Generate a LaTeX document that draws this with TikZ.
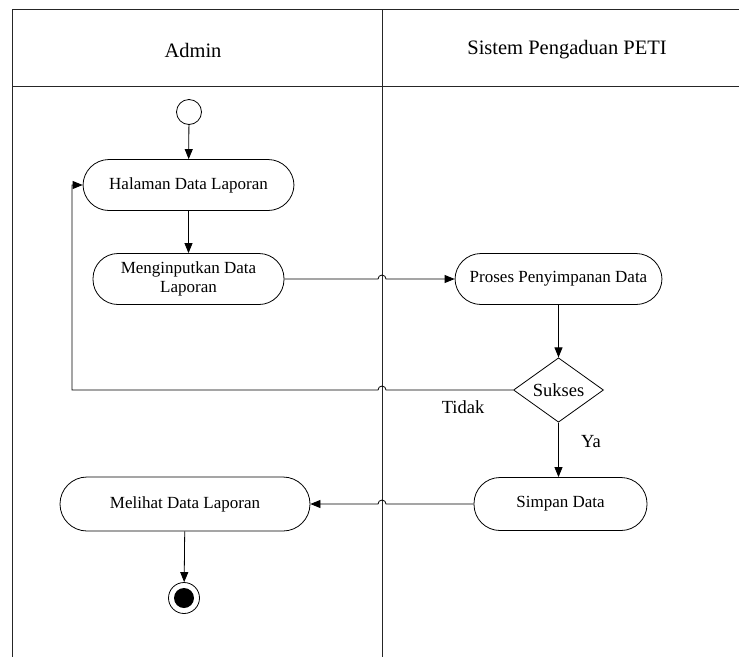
\documentclass[tikz,border=0pt]{standalone}
\usepackage{fontspec}
\setmainfont{Liberation Serif}
\usetikzlibrary{arrows.meta,shapes.geometric,calc}
\begin{document}
\begin{tikzpicture}[x=1pt,y=1pt,
  lane/.style={line width=1pt,black!85},
  act/.style={draw,line width=0.8pt,rounded corners=26pt,minimum height=51pt,align=center,font=\fontsize{17}{19.5}\selectfont,inner sep=2pt},
  dec/.style={draw,diamond,line width=0.8pt,minimum width=90pt,minimum height=61pt,inner sep=0pt,font=\fontsize{18.5}{20}\selectfont},
  lbl/.style={font=\fontsize{18.5}{20}\selectfont,inner sep=0pt},
  hdr/.style={font=\fontsize{20.5}{23}\selectfont,inner sep=0pt},
  arr/.style={line width=0.8pt,-{Triangle[length=10pt,width=8pt]}},
  ln/.style={line width=0.8pt}]
\useasboundingbox (0,0) rectangle (739,-657);
% swimlane frame
\coordinate (tl) at (12,-9);
\coordinate (tr) at (739,-9);
\coordinate (hl) at (12,-86);
\coordinate (hr) at (739,-86);
\coordinate (bl) at (12,-657);
\coordinate (divtop) at (382,-9);
\coordinate (divbot) at (382,-657);
\draw[lane] (tr) -- (tl) -- (bl);
\draw[lane] (hl) -- (hr);
\draw[lane] (divtop) -- (divbot);
\node[hdr] (hadmin) at (193,-50) {Admin};
\node[hdr] (hsys) at (567,-50) {Sistem Pengaduan PETI};
% nodes
\node[draw,circle,line width=0.8pt,minimum size=25pt,inner sep=0pt] (start) at (189,-112) {};
\node[act,minimum width=211pt] (h) at (188.5,-185) {Halaman Data Laporan};
\node[act,minimum width=191pt,rounded corners=25pt] (m) at (188.5,-279) {Menginputkan Data\\Laporan};
\node[act,minimum width=207pt] (p) at (558.5,-279) {Proses Penyimpanan Data};
\node[dec] (s) at (558.5,-390) {Sukses};
\node[act,minimum width=173pt,minimum height=53pt] (sd) at (560.5,-504) {Simpan Data};
\node[act,minimum width=250pt,rounded corners=27pt,minimum height=54pt] (ml) at (185,-504) {Melihat Data Laporan};
\node[draw,circle,line width=0.8pt,minimum size=31pt,inner sep=0pt] (end) at (184,-598) {};
\fill (end.center) circle[radius=10pt];
\coordinate (loopc) at (72,0);
\node[lbl] (tidak) at (463,-407) {Tidak};
\node[lbl] (ya) at (591,-442) {Ya};
% connectors
\draw[arr] (start) -- (h);
\draw[arr] (h) -- (m);
\draw[arr] (m.east) -- ($(m.east -| divtop)+(-4,0)$) arc[start angle=180,end angle=0,radius=4] -- (p.west);
\draw[arr] (p) -- (s);
\draw[arr] (s.west) -- ($(s.west -| divtop)+(4,0)$) arc[start angle=0,end angle=180,radius=4] -- (s.west -| loopc) |- (h.west);
\draw[arr] (s.south) -- (sd.north -| s.south);
\draw[arr] (sd.west) -- ($(sd.west -| divtop)+(4,0)$) arc[start angle=0,end angle=180,radius=4] -- (ml.east);
\draw[arr] (ml) -- (end);
\end{tikzpicture}
\end{document}
